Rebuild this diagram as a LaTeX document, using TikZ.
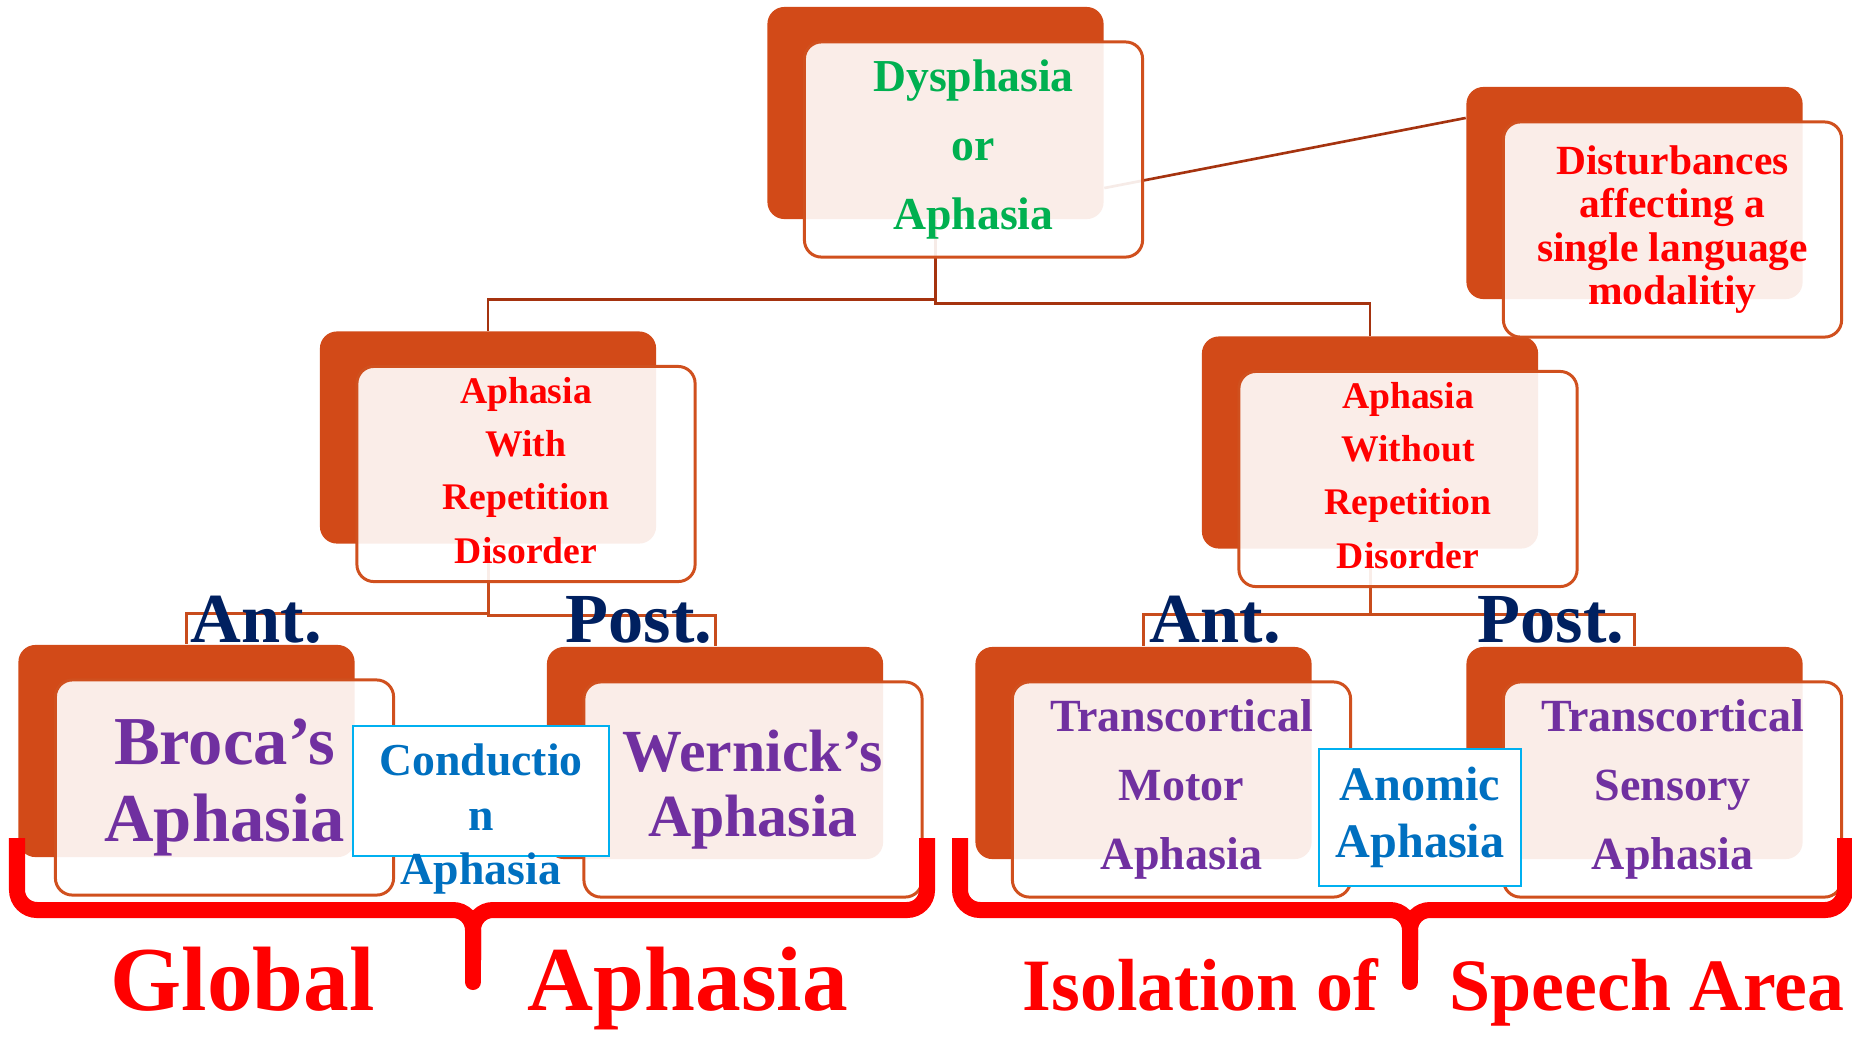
\documentclass[tikz,border=0pt]{standalone}
\usepackage{fontspec}
\setmainfont{Liberation Serif}
\definecolor{boxorange}{HTML}{D24A18}
\definecolor{edgeorange}{HTML}{D0501E}
\definecolor{linkdark}{HTML}{A5330F}
\definecolor{linkmid}{HTML}{C84C1C}
\definecolor{txtgreen}{HTML}{00B050}
\definecolor{txtred}{HTML}{FF0000}
\definecolor{txtpurple}{HTML}{7030A0}
\definecolor{txtblue}{HTML}{0070C0}
\definecolor{boxcyan}{HTML}{00B0F0}
\definecolor{navy}{HTML}{002060}
% a centred stack of lines, lifted slightly inside its box
\newcommand\liftedlines[1]{\raisebox{0.012cm}[\height][\depth]{\begin{tabular}{@{}c@{}}#1\end{tabular}}}
\begin{document}
\begin{tikzpicture}[x=0.01cm,y=-0.01cm,
  darkbox/.style={draw=none, fill=boxorange, rounded corners=0.17cm,
    minimum width=3.36cm, minimum height=2.12cm, inner sep=0pt},
  lightbox/.style={draw=edgeorange, line width=0.85pt, fill=white,
    fill opacity=0.9, text opacity=1, rounded corners=0.17cm,
    minimum width=3.38cm, minimum height=2.15cm, inner sep=0pt, align=center},
  notebox/.style={draw=boxcyan, line width=0.7pt, fill=white, inner sep=0pt, align=center},
  linkA/.style={draw=linkdark, line width=0.75pt},
  linkB/.style={draw=linkmid, line width=0.85pt},
  side/.style={anchor=base west, text=navy, inner sep=0pt,
    font=\fontsize{20}{24}\selectfont\bfseries},
  brace/.style={draw=txtred, line width=0.16cm, rounded corners=0.2cm},
  bigred/.style={anchor=base west, text=txtred, inner sep=0pt}]
\useasboundingbox[fill=white] (0,0) rectangle (1852,1036);

% background (dark) cards
\node[darkbox] (topD) at (935.5,113) {};
\node[darkbox] (rD)   at (1634.5,193) {};
\node[darkbox] (wD)   at (488,437.5) {};
\node[darkbox] (woD)  at (1370,442.5) {};
\node[darkbox] (bD)   at (186.5,751) {};
\node[darkbox] (weD)  at (715,753) {};
\node[darkbox] (tmD)  at (1143.5,753) {};
\node[darkbox] (tsD)  at (1634.5,753) {};

% connectors (drawn over the dark cards, under the light cards)
\draw[linkA] ([yshift=-0.75cm]topD.east) -- ([yshift=0.75cm]rD.west);
\draw[linkA] (topD.south) -- ++(0,80) -| (wD.north);
\draw[linkA] (topD.south) -- ++(0,84) -| (woD.north);
\draw[linkB] (wD.south) -- ++(0,69) -| (bD.north);
\draw[linkB] (wD.south) -- ++(0,71) -| (weD.north);
\draw[linkB] (woD.south) -- ++(0,65) -| (tmD.north);
\draw[linkB] (woD.south) -- ++(0,65) -| (tsD.north);

% foreground (light) cards with their texts
\node[lightbox, text=txtgreen, font=\fontsize{13}{19.6}\selectfont\bfseries]
  (topL) at ([shift={(38,36.5)}]topD.center) {Dysphasia\\or\\Aphasia};
\node[lightbox, text=txtred, font=\fontsize{11.8}{12.3}\selectfont\bfseries]
  (rL) at ([shift={(38,36.5)}]rD.center) {Disturbances\\affecting a\\single language\\modalitiy};
\node[lightbox, text=txtred, font=\fontsize{10.7}{15.1}\selectfont\bfseries]
  (wL) at ([shift={(38,36.5)}]wD.center) {\liftedlines{Aphasia\\With\\Repetition\\Disorder}};
\node[lightbox, text=txtred, font=\fontsize{10.7}{15.1}\selectfont\bfseries]
  (woL) at ([shift={(38,36.5)}]woD.center) {\liftedlines{Aphasia\\Without\\Repetition\\Disorder}};
\node[lightbox, text=txtpurple, font=\fontsize{19.5}{21.9}\selectfont\bfseries]
  (bL) at ([shift={(38,36.5)}]bD.center) {Broca’s\\Aphasia};
\node[lightbox, text=txtpurple, font=\fontsize{17}{18.5}\selectfont\bfseries]
  (weL) at ([shift={(38,36.5)}]weD.center) {Wernick’s\\Aphasia};
\node[lightbox, text=txtpurple, font=\fontsize{13.1}{19.6}\selectfont\bfseries]
  (tmL) at ([shift={(38,36.5)}]tmD.center) {Transcortical\\Motor\\Aphasia};
\node[lightbox, text=txtpurple, font=\fontsize{13.1}{19.6}\selectfont\bfseries]
  (tsL) at ([shift={(38,36.5)}]tsD.center) {Transcortical\\Sensory\\Aphasia};

% boxed notes between the cards
\node[notebox, minimum width=2.56cm, minimum height=1.30cm] (cond) at (481,791) {};
\node[text=txtblue, align=center, inner sep=0pt,
  font=\fontsize{13}{15.4}\selectfont\bfseries] (condT) at (481,819) {Conductio\\n\\Aphasia};
\node[notebox, minimum width=2.02cm, minimum height=1.37cm, text=txtblue,
  font=\fontsize{13.7}{16.2}\selectfont\bfseries] (anom) at (1420,817.5) {Anomic\\Aphasia};

% anterior / posterior labels
\node[side] (antL)  at (190,642)  {Ant.};
\node[side] (postL) at (565,642)  {Post.};
\node[side] (antR)  at (1149,642) {Ant.};
\node[side] (postR) at (1477,642) {Post.};

% grouping braces
\draw[brace] (17,838) -- (17,910) -- (473,910) -- (473,960);
\draw[brace] (927,838) -- (927,910) -- (473,910) -- (473,960);
\draw[brace, rounded corners=0pt, line cap=round] (473,940) -- (473,982);
\draw[brace] (960,838) -- (960,910) -- (1410,910) -- (1410,960);
\draw[brace] (1845,838) -- (1845,910) -- (1410,910) -- (1410,960);
\draw[brace, rounded corners=0pt, line cap=round] (1410,940) -- (1410,982);

% group names
\node[bigred, font=\fontsize{26}{30}\selectfont\bfseries] (glob1) at (110,1010) {Global};
\node[bigred, font=\fontsize{26}{30}\selectfont\bfseries] (glob2) at (527,1010) {Aphasia};
\node[bigred, font=\fontsize{21}{25}\selectfont\bfseries] (iso1) at (1022,1010) {Isolation of};
\node[bigred, font=\fontsize{21}{25}\selectfont\bfseries] (iso2) at (1449,1010) {Speech Area};
\end{tikzpicture}
\end{document}
